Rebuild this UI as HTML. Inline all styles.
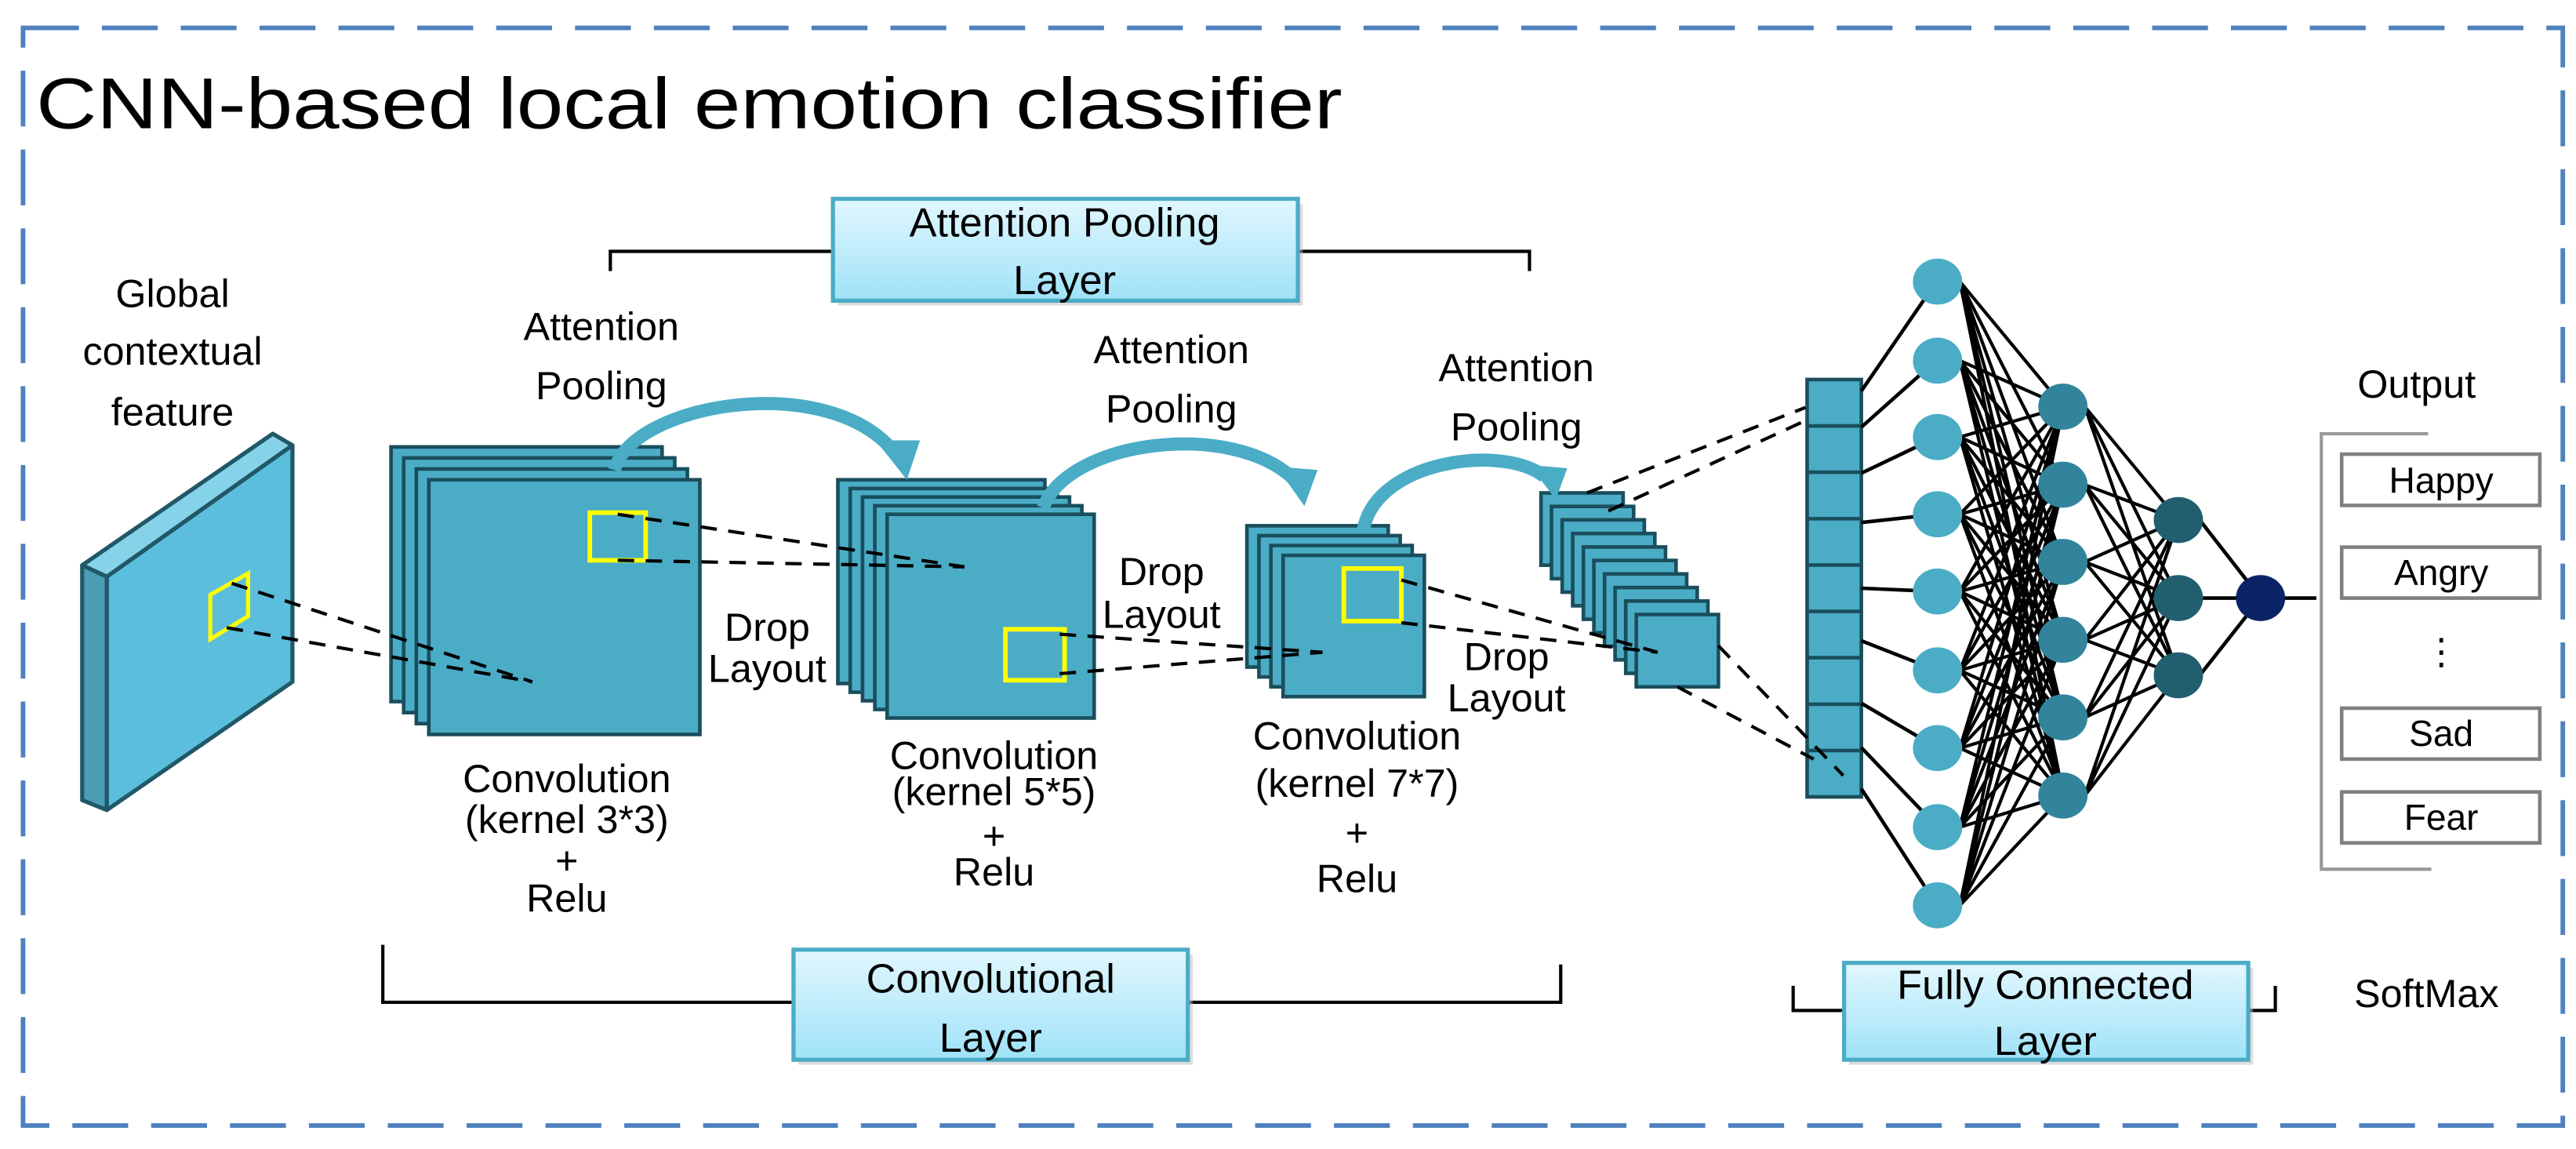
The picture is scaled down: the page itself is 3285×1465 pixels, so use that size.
<!DOCTYPE html>
<html><head><meta charset="utf-8"><style>
html,body{margin:0;padding:0;background:#fff}
svg{display:block}
text{font-family:"Liberation Sans","DejaVu Sans",sans-serif;fill:#000}
</style></head><body>
<svg width="3285" height="1465" viewBox="0 0 1568 699.3" xmlns="http://www.w3.org/2000/svg">
<defs>
<linearGradient id="g" x1="0" y1="0" x2="0" y2="1"><stop offset="0" stop-color="#e2f7fe"/><stop offset="1" stop-color="#9fe2f8"/></linearGradient>
</defs>
<rect x="14" y="17" width="1546" height="668" fill="none" stroke="#4f81bd" stroke-width="2.8" stroke-dasharray="34 14"/>
<text x="22" y="78" font-size="44" textLength="795" lengthAdjust="spacingAndGlyphs">CNN-based local emotion classifier</text>

<g stroke="#000" stroke-width="2" fill="none">
<polyline points="371.5,165 371.5,153 931,153 931,165"/>
<polyline points="233,575 233,610 950,610 950,587"/>
<polyline points="1091.5,600 1091.5,615 1385,615 1385,600"/>
</g>
<g stroke="#4bacc6" stroke-width="2.5" fill="url(#g)">
<rect x="510" y="124" width="283" height="62" fill="#bbb" stroke="none" opacity="0.5"/>
<rect x="507" y="121" width="283" height="62"/>
<rect x="486" y="581" width="240" height="67" fill="#bbb" stroke="none" opacity="0.5"/>
<rect x="483" y="578" width="240" height="67"/>
<rect x="1125.5" y="589" width="246" height="59" fill="#bbb" stroke="none" opacity="0.5"/>
<rect x="1122.5" y="586" width="246" height="59"/>
</g>
<g font-size="25" text-anchor="middle">
<text x="648" y="144">Attention Pooling</text><text x="648" y="179">Layer</text>
<text x="603" y="604">Convolutional</text><text x="603" y="640">Layer</text>
<text x="1245" y="608">Fully Connected</text><text x="1245" y="642">Layer</text>
</g>

<g stroke="#215868" stroke-width="2.5" stroke-linejoin="round">
<polygon points="50,344 166,264 178,271 65,351" fill="#86d2e8"/>
<polygon points="50,344 65,351 65,493 50,487" fill="#4a9db5"/>
<polygon points="65,351 178,271 178,415 65,493" fill="#5bbedc"/>
</g>
<polygon points="128,362 151,349 151,375 128,389" fill="none" stroke="#ffff00" stroke-width="2.5"/>
<g font-size="24" text-anchor="middle">
<text x="105" y="187">Global</text><text x="105" y="222">contextual</text><text x="105" y="259">feature</text>
</g>

<g fill="#4bacc6" stroke="#1a4e5c" stroke-width="2.2">
<rect x="238" y="272" width="165" height="155"/><rect x="245.7" y="278.7" width="165" height="155"/><rect x="253.4" y="285.4" width="165" height="155"/><rect x="261" y="292" width="165" height="155"/>
<rect x="510" y="292" width="126" height="124"/><rect x="517.5" y="297.3" width="126" height="124"/><rect x="525" y="302.5" width="126" height="124"/><rect x="532.5" y="307.8" width="126" height="124"/><rect x="540" y="313" width="126" height="124"/>
<rect x="759" y="320" width="86" height="86"/><rect x="766.3" y="326" width="86" height="86"/><rect x="773.6" y="332" width="86" height="86"/><rect x="781" y="338" width="86" height="86"/>
<rect x="938" y="300" width="50" height="44"/><rect x="944.4" y="308.2" width="50" height="44"/><rect x="950.9" y="316.4" width="50" height="44"/><rect x="957.3" y="324.7" width="50" height="44"/><rect x="963.8" y="332.9" width="50" height="44"/><rect x="970.2" y="341.1" width="50" height="44"/><rect x="976.7" y="349.3" width="50" height="44"/><rect x="983.1" y="357.6" width="50" height="44"/><rect x="989.6" y="365.8" width="50" height="44"/><rect x="996" y="374" width="50" height="44"/>
<rect x="1100" y="231" width="33" height="254"/>
</g>
<g stroke="#1a4e5c" stroke-width="2.2">
<line x1="1100" y1="259.2" x2="1133" y2="259.2"/><line x1="1100" y1="287.4" x2="1133" y2="287.4"/><line x1="1100" y1="315.7" x2="1133" y2="315.7"/><line x1="1100" y1="343.9" x2="1133" y2="343.9"/><line x1="1100" y1="372.1" x2="1133" y2="372.1"/><line x1="1100" y1="400.3" x2="1133" y2="400.3"/><line x1="1100" y1="428.6" x2="1133" y2="428.6"/><line x1="1100" y1="456.8" x2="1133" y2="456.8"/>
</g>
<g fill="none" stroke="#ffff00" stroke-width="2.8">
<rect x="359" y="312" width="34" height="29"/><rect x="612" y="383" width="36" height="31"/><rect x="818" y="346" width="35" height="32"/>
</g>
<g stroke="#000" stroke-width="2" stroke-dasharray="10 7" fill="none">
<line x1="141" y1="355" x2="324" y2="415"/><line x1="138" y1="382" x2="324" y2="415"/>
<line x1="376" y1="313" x2="587" y2="345"/><line x1="376" y1="341" x2="587" y2="345"/>
<line x1="645" y1="386" x2="805" y2="397"/><line x1="645" y1="410" x2="805" y2="397"/>
<line x1="853" y1="353" x2="1009" y2="397"/><line x1="853" y1="379" x2="1009" y2="397"/>
<line x1="966" y1="300" x2="1099" y2="248"/><line x1="979" y1="311" x2="1099" y2="256"/>
<line x1="1046" y1="393" x2="1122" y2="472"/><line x1="1021" y1="418" x2="1104" y2="462"/>
</g>
<g fill="none" stroke="#4bacc6" stroke-width="8">
<path d="M374,286 C385,245 505,225 545,276"/>
<path d="M635,309 C650,268 750,255 788,292"/>
<path d="M830,322 C838,280 915,270 940,290"/>
</g>
<g fill="#4bacc6">
<polygon points="533,268 560,268 552,292"/>
<polygon points="777,284 802,286 794,308"/>
<polygon points="931,283 954,285 947,304"/>
</g>
<g font-size="24" text-anchor="middle">
<text x="366" y="207">Attention</text><text x="366" y="243">Pooling</text>
<text x="713" y="221">Attention</text><text x="713" y="257">Pooling</text>
<text x="923" y="232">Attention</text><text x="923" y="268">Pooling</text>
<text x="467" y="390">Drop</text><text x="467" y="415">Layout</text>
<text x="707" y="356">Drop</text><text x="707" y="382">Layout</text>
<text x="917" y="408">Drop</text><text x="917" y="433">Layout</text>
<text x="345" y="482">Convolution</text><text x="345" y="507">(kernel 3*3)</text><text x="345" y="532">+</text><text x="345" y="555">Relu</text>
<text x="605" y="468">Convolution</text><text x="605" y="490">(kernel 5*5)</text><text x="605" y="517">+</text><text x="605" y="539">Relu</text>
<text x="826" y="456">Convolution</text><text x="826" y="485">(kernel 7*7)</text><text x="826" y="515">+</text><text x="826" y="543">Relu</text>
</g>

<g stroke="#000" stroke-width="2.2">
<line x1="1133" y1="238" x2="1179" y2="171"/><line x1="1133" y1="260" x2="1179" y2="219"/><line x1="1133" y1="288" x2="1179" y2="266"/><line x1="1133" y1="318" x2="1179" y2="313"/><line x1="1133" y1="358" x2="1179" y2="360"/><line x1="1133" y1="390" x2="1179" y2="408"/><line x1="1133" y1="428" x2="1179" y2="455"/><line x1="1133" y1="455" x2="1179" y2="503"/><line x1="1133" y1="480" x2="1179" y2="551"/>
</g>
<g stroke="#000" stroke-width="2">
<path d="M1193,171.4L1256,247.5M1193,171.4L1256,295M1193,171.4L1256,342M1193,171.4L1256,389.4M1193,171.4L1256,436.6M1193,171.4L1256,484.2
M1193,219.5L1256,247.5M1193,219.5L1256,295M1193,219.5L1256,342M1193,219.5L1256,389.4M1193,219.5L1256,436.6M1193,219.5L1256,484.2
M1193,266L1256,247.5M1193,266L1256,295M1193,266L1256,342M1193,266L1256,389.4M1193,266L1256,436.6M1193,266L1256,484.2
M1193,313L1256,247.5M1193,313L1256,295M1193,313L1256,342M1193,313L1256,389.4M1193,313L1256,436.6M1193,313L1256,484.2
M1193,360L1256,247.5M1193,360L1256,295M1193,360L1256,342M1193,360L1256,389.4M1193,360L1256,436.6M1193,360L1256,484.2
M1193,408L1256,247.5M1193,408L1256,295M1193,408L1256,342M1193,408L1256,389.4M1193,408L1256,436.6M1193,408L1256,484.2
M1193,455.3L1256,247.5M1193,455.3L1256,295M1193,455.3L1256,342M1193,455.3L1256,389.4M1193,455.3L1256,436.6M1193,455.3L1256,484.2
M1193,503.4L1256,247.5M1193,503.4L1256,295M1193,503.4L1256,342M1193,503.4L1256,389.4M1193,503.4L1256,436.6M1193,503.4L1256,484.2
M1193,551L1256,247.5M1193,551L1256,295M1193,551L1256,342M1193,551L1256,389.4M1193,551L1256,436.6M1193,551L1256,484.2
M1269,247.5L1326,316.5M1269,247.5L1326,364M1269,247.5L1326,411
M1269,295L1326,316.5M1269,295L1326,364M1269,295L1326,411
M1269,342L1326,316.5M1269,342L1326,364M1269,342L1326,411
M1269,389.4L1326,316.5M1269,389.4L1326,364M1269,389.4L1326,411
M1269,436.6L1326,316.5M1269,436.6L1326,364M1269,436.6L1326,411
M1269,484.2L1326,316.5M1269,484.2L1326,364M1269,484.2L1326,411" fill="none"/>
</g>
<g stroke="#000" stroke-width="2.2">
<line x1="1339" y1="316.5" x2="1376" y2="364"/><line x1="1339" y1="364" x2="1376" y2="364"/><line x1="1339" y1="411" x2="1376" y2="364"/>
<line x1="1376" y1="364" x2="1410" y2="364"/>
</g>
<g fill="#4bacc6">
<ellipse cx="1179.4" cy="171.4" rx="15" ry="14"/><ellipse cx="1179.4" cy="219.5" rx="15" ry="14"/><ellipse cx="1179.4" cy="266" rx="15" ry="14"/><ellipse cx="1179.4" cy="313" rx="15" ry="14"/><ellipse cx="1179.4" cy="360" rx="15" ry="14"/><ellipse cx="1179.4" cy="408" rx="15" ry="14"/><ellipse cx="1179.4" cy="455.3" rx="15" ry="14"/><ellipse cx="1179.4" cy="503.4" rx="15" ry="14"/><ellipse cx="1179.4" cy="551" rx="15" ry="14"/>
</g>
<g fill="#31849b">
<ellipse cx="1255.7" cy="247.5" rx="15" ry="14"/><ellipse cx="1255.7" cy="295" rx="15" ry="14"/><ellipse cx="1255.7" cy="342" rx="15" ry="14"/><ellipse cx="1255.7" cy="389.4" rx="15" ry="14"/><ellipse cx="1255.7" cy="436.6" rx="15" ry="14"/><ellipse cx="1255.7" cy="484.2" rx="15" ry="14"/>
</g>
<g fill="#215e6e">
<ellipse cx="1326" cy="316.5" rx="15" ry="14"/><ellipse cx="1326" cy="364" rx="15" ry="14"/><ellipse cx="1326" cy="411" rx="15" ry="14"/>
</g>
<ellipse cx="1376" cy="364" rx="15" ry="14" fill="#0a2366"/>

<polyline points="1478,264 1413,264 1413,529 1480,529" fill="none" stroke="#999" stroke-width="2"/>
<g fill="#fff" stroke="#808080" stroke-width="2.2">
<rect x="1425.4" y="276.4" width="120.6" height="31.2"/><rect x="1425.4" y="333" width="120.6" height="31"/><rect x="1425.4" y="431" width="120.6" height="31"/><rect x="1425.4" y="482" width="120.6" height="31"/>
</g>
<g font-size="22" text-anchor="middle">
<text x="1486" y="300">Happy</text><text x="1486" y="356">Angry</text><text x="1486" y="404">⋮</text><text x="1486" y="454">Sad</text><text x="1486" y="505">Fear</text>
</g>
<g font-size="24" text-anchor="middle">
<text x="1471" y="242">Output</text><text x="1477" y="613">SoftMax</text>
</g>
</svg>
</body></html>
